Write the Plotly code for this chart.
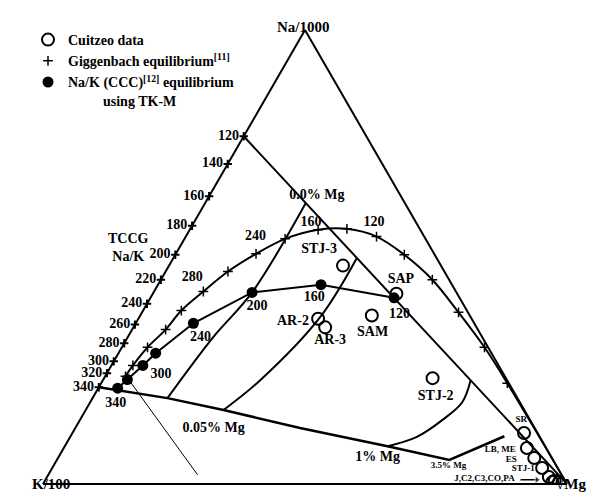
import plotly.graph_objects as go

# Ternary compositions in percent: Na/1000, K/100, sqrt(Mg)

# Na/K geothermometer scale along the Na-K side
tick_temp = ["120", "140", "160", "180", "200", "220", "240", "260", "280", "300", "320", "340"]
tick_na = [76.6, 70.5, 63.4, 56.9, 50.5, 45.0, 39.7, 35.1, 31.0, 27.0, 24.4, 21.3]
tick_k = [100 - v for v in tick_na]
tick_mg = [0.0] * len(tick_na)

# 120 degC Na/K isotherm running to the Mg vertex
iso_na = [76.6, 0.0]
iso_k = [23.4, 0.0]
iso_mg = [0.0, 100.0]

# Giggenbach full equilibrium curve
gig_na = [23.7, 26.1, 30.1, 34.0, 38.2, 42.4, 46.8, 50.7, 54.0, 56.0, 56.2, 54.5, 50.5, 45.0, 37.8, 30.1, 22.2]
gig_k = [72.4, 69.8, 65.0, 59.6, 54.5, 48.2, 41.3, 34.0, 26.8, 19.5, 13.9, 9.1, 5.8, 3.2, 1.8, 0.7, 0.3]
gig_mg = [3.9, 4.1, 4.9, 6.4, 7.3, 9.4, 11.9, 15.3, 19.2, 24.5, 29.9, 36.4, 43.7, 51.8, 60.4, 69.2, 77.5]
gig_tail_na = [22.2, 12.0, 0.0]
gig_tail_k = [0.3, 0.1, 0.0]
gig_tail_mg = [77.5, 87.9, 100.0]
gig_lab = ["280", "240", "160", "120"]
gig_lab_na = [45.4, 54.5, 57.5, 57.5]
gig_lab_k = [48.8, 32.2, 20.1, 8.1]
gig_lab_mg = [5.8, 13.3, 22.4, 34.4]

# Na/K (CCC) equilibrium using TK-M
ccc_na = [21.1, 23.0, 26.1, 28.8, 35.4, 42.2, 43.9, 41.0]
ccc_k = [75.2, 72.4, 67.9, 64.1, 53.6, 39.0, 25.0, 12.5]
ccc_mg = [3.7, 4.6, 6.0, 7.1, 11.0, 18.8, 31.1, 46.5]
ccc_lab = ["340", "300", "240", "200", "160", "120"]
ccc_lab_na = [17.8, 24.2, 32.3, 39.1, 41.1, 37.3]
ccc_lab_k = [77.2, 65.4, 53.8, 39.6, 27.7, 13.3]
ccc_lab_mg = [5.0, 10.4, 13.9, 21.3, 31.2, 49.4]

# Mg grid lines
mg0_na = [61.9, 42.2, 32.3, 18.9]
mg0_k = [18.9, 39.0, 51.4, 66.8]
mg0_mg = [19.2, 18.8, 16.3, 14.3]

mg2_na = [49.8, 36.7, 22.8, 16.3]
mg2_k = [15.2, 28.8, 47.2, 57.4]
mg2_mg = [35.0, 34.5, 30.0, 26.3]

mg3_na = [22.8, 18.0, 14.1, 10.3, 8.3]
mg3_k = [7.0, 11.0, 16.7, 23.6, 30.1]
mg3_mg = [70.2, 71.0, 69.2, 66.1, 61.6]

base_na = [21.3, 18.9, 16.3, 12.3, 8.3, 5.3, 10.5]
base_k = [78.7, 66.8, 57.4, 44.8, 30.1, 19.8, 6.7]
base_mg = [0.0, 14.3, 26.3, 42.9, 61.6, 74.9, 82.8]

thin_na = [23.3, 2.0]
thin_k = [72.2, 69.5]
thin_mg = [4.5, 28.5]

mg_lab = ["0.0% Mg", "0.05% Mg", "1% Mg"]
mg_lab_na = [63.5, 12.3, 5.9]
mg_lab_k = [16.0, 61.3, 33.2]
mg_lab_mg = [20.5, 26.4, 60.9]

# Cuitzeo samples
site = ["STJ-3", "SAP", "AR-2", "AR-3", "SAM", "STJ-2", "SR", "LB, ME", "ES", "STJ-1", "J", "C2", "C3", "CO", "PA"]
site_na = [48.1, 41.9, 36.4, 34.5, 37.1, 23.3, 11.2, 7.9, 5.7, 3.5, 1.5, 0.7, 0.4, 0.2, 0.4]
site_k = [18.7, 11.6, 29.3, 28.9, 18.7, 14.0, 2.6, 3.7, 3.4, 3.0, 2.7, 2.0, 1.3, 0.8, 2.6]
site_mg = [33.2, 46.5, 34.3, 36.6, 44.2, 62.7, 86.2, 88.4, 90.9, 93.5, 95.8, 97.3, 98.3, 99.0, 97.0]

big_lab = ["STJ-3", "SAP", "AR-2", "AR-3", "SAM", "STJ-2"]
big_lab_na = [51.6, 45.0, 35.8, 31.6, 33.4, 19.3]
big_lab_k = [21.5, 9.2, 34.4, 29.4, 20.4, 15.4]
big_lab_mg = [26.9, 45.8, 29.8, 39.0, 46.2, 65.3]

small_lab = ["SR", "LB, ME", "ES", "STJ-1", "J,C2,C3,CO,PA", "3.5% Mg"]
small_lab_na = [14.1, 7.5, 5.3, 3.3, 1.1, 4.0]
small_lab_k = [1.7, 9.0, 8.0, 6.7, 15.2, 20.6]
small_lab_mg = [84.2, 83.5, 86.7, 90.0, 83.7, 75.4]

arrow_na = [0.9, 0.9]
arrow_k = [8.5, 5.3]
arrow_mg = [90.6, 93.8]

SERIF = "Liberation Serif, Times New Roman, serif"
W, H = 599, 500


def b(s):
    return "<b>" + s + "</b>"


fig = go.Figure()


def line(na, k, mg, width=2.0, shape="linear"):
    fig.add_trace(go.Scatterternary(a=na, b=k, c=mg, mode="lines", showlegend=False,
                                    line=dict(color="black", width=width, shape=shape),
                                    hoverinfo="skip"))


def labels(txt, na, k, mg, size=14):
    fig.add_trace(go.Scatterternary(a=na, b=k, c=mg, mode="text", text=[b(t) for t in txt],
                                    showlegend=False, textposition="middle center",
                                    cliponaxis=False,
                                    textfont=dict(family=SERIF, size=size, color="black"),
                                    hoverinfo="skip"))


line(iso_na, iso_k, iso_mg)
line(mg0_na, mg0_k, mg0_mg, shape="spline")
line(mg2_na, mg2_k, mg2_mg, shape="spline")
line(mg3_na, mg3_k, mg3_mg, shape="spline")
line(base_na, base_k, base_mg, width=2.5)
line(thin_na, thin_k, thin_mg, width=1.0)
line(gig_na, gig_k, gig_mg, shape="spline")
line(gig_tail_na, gig_tail_k, gig_tail_mg, shape="spline")
line(ccc_na, ccc_k, ccc_mg)

# temperature scale ticks on the Na-K side
fig.add_trace(go.Scatterternary(
    a=tick_na, b=tick_k, c=tick_mg, mode="markers+text", text=[b(t) for t in tick_temp],
    textposition="middle left", cliponaxis=False, showlegend=False,
    marker=dict(symbol="cross-thin", size=6, line=dict(color="black", width=2)),
    textfont=dict(family=SERIF, size=14, color="black"), hoverinfo="skip"))

# arrow pointing to the cluster at the Mg corner
fig.add_trace(go.Scatterternary(
    a=arrow_na, b=arrow_k, c=arrow_mg, mode="lines+markers", showlegend=False,
    line=dict(color="black", width=1.5),
    marker=dict(symbol=["circle", "triangle-right"], size=[1, 7], color="black"),
    hoverinfo="skip"))

fig.add_trace(go.Scatterternary(
    a=site_na, b=site_k, c=site_mg, mode="markers", name=b("Cuitzeo data"),
    text=site, hoverinfo="text",
    marker=dict(symbol="circle-open", size=12, color="black", line=dict(width=2))))
fig.add_trace(go.Scatterternary(
    a=gig_na, b=gig_k, c=gig_mg, mode="markers",
    name=b("Giggenbach equilibrium<sup>[11]</sup>"),
    marker=dict(symbol="cross-thin", size=7, color="black", line=dict(width=1.5, color="black"))))
fig.add_trace(go.Scatterternary(
    a=ccc_na, b=ccc_k, c=ccc_mg, mode="markers",
    name=b("Na/K (CCC)<sup>[12]</sup> equilibrium<br>          using TK-M"),
    marker=dict(symbol="circle", size=11, color="black")))

labels(gig_lab, gig_lab_na, gig_lab_k, gig_lab_mg)
labels(ccc_lab, ccc_lab_na, ccc_lab_k, ccc_lab_mg)
labels(mg_lab, mg_lab_na, mg_lab_k, mg_lab_mg)
labels(big_lab, big_lab_na, big_lab_k, big_lab_mg)
labels(small_lab, small_lab_na, small_lab_k, small_lab_mg, size=9)

axis = dict(title=dict(text=""), showgrid=False, showticklabels=False, ticks="",
            showline=True, linecolor="black", linewidth=2)

fig.update_layout(
    width=W, height=H,
    margin=dict(l=0, r=0, t=0, b=0),
    paper_bgcolor="white",
    font=dict(family=SERIF, color="black", size=14),
    ternary=dict(sum=100, bgcolor="white",
                 domain=dict(x=[43 / W, 567 / W], y=[1 - 484 / H, 1 - 30 / H]),
                 aaxis=axis, baxis=axis, caxis=axis),
    legend=dict(x=28 / W, y=1 - 24 / H, xanchor="left", yanchor="top",
                bgcolor="rgba(0,0,0,0)", valign="top", tracegroupgap=0,
                font=dict(family=SERIF, size=14, color="black"), itemwidth=30),
    annotations=[
        dict(text=b("Na/1000"), x=303 / W, y=1 - 17 / H, xref="paper", yref="paper",
             showarrow=False, font=dict(size=15)),
        dict(text=b("K/100"), x=30 / W, y=1 - 494 / H, xref="paper", yref="paper",
             showarrow=False, font=dict(size=15)),
        dict(text=b("√Mg"), x=588 / W, y=1 - 494 / H, xref="paper", yref="paper",
             showarrow=False, font=dict(size=15)),
        dict(text=b("TCCG<br>Na/K"), x=106 / W, y=1 - 247 / H, xref="paper", yref="paper",
             showarrow=False, font=dict(size=14)),
    ],
)

fig.write_html("out.html")
